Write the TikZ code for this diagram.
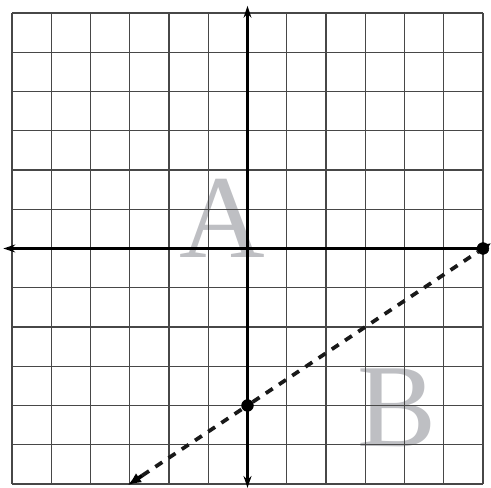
\documentclass[tikz,border=0pt]{standalone}
\usepackage{fontspec}
\setmainfont{Liberation Serif}
\usepackage{xcolor}
\usepackage{tikz}
\usetikzlibrary{arrows.meta,calc}
\definecolor{lettergray}{RGB}{190,191,195}
\tikzstyle{gridln}=[black!72, line width=0.9pt]
\tikzstyle{axis}=[line width=1.6pt, black]
\tikzstyle{dot}=[circle, draw=black, fill=black, inner sep=0pt, minimum size=3mm]
\tikzstyle{bigletter}=[text=lettergray, inner sep=0pt, font=\fontsize{86}{86}\selectfont]
\tikzstyle{dline}=[line width=2.7pt, dash pattern=on 6pt off 5.5pt, black!90]

\begin{document}
\begin{tikzpicture}
\useasboundingbox (-6.306,-6.102) rectangle (6.204,6.331);

\node[bigletter] (la) at (-0.64,0.78) {A};
\node[bigletter] (lb) at (3.81,-4.06) {B};

\draw[gridln] (-6,-6) grid (6,6);

\coordinate (xl) at (-6.22,0);
\coordinate (xr) at (6,0);
\coordinate (yb) at (0,-6.1);
\coordinate (yt) at (0,6.18);
\draw [axis,-{Stealth[length=3mm,width=2mm]}] (xr) -- (xl);
\draw [axis,{Stealth[length=3mm,width=2mm]}-{Stealth[length=3mm,width=2mm]}] (yb) -- (yt);

\node[dot] (p0) at (0,-4) {};
\node[dot] (p1) at (6,0) {};
\coordinate (lo) at (-3.05,-6.03);
\coordinate (hi) at (6.21,0.14);

\draw [dline] ($(lo)!0.12!(p0)$) -- (p0);
\draw [dline] (p0) -- (p1);
\draw [-{Latex[length=3.4mm,width=2.8mm]}, line width=2.7pt] ($(lo)!0.12!(p0)$) -- (lo);
\draw [-{Latex[length=2.6mm,width=2.6mm]}, line width=2pt] (p1.center) -- (hi);

\end{tikzpicture}
\end{document}
